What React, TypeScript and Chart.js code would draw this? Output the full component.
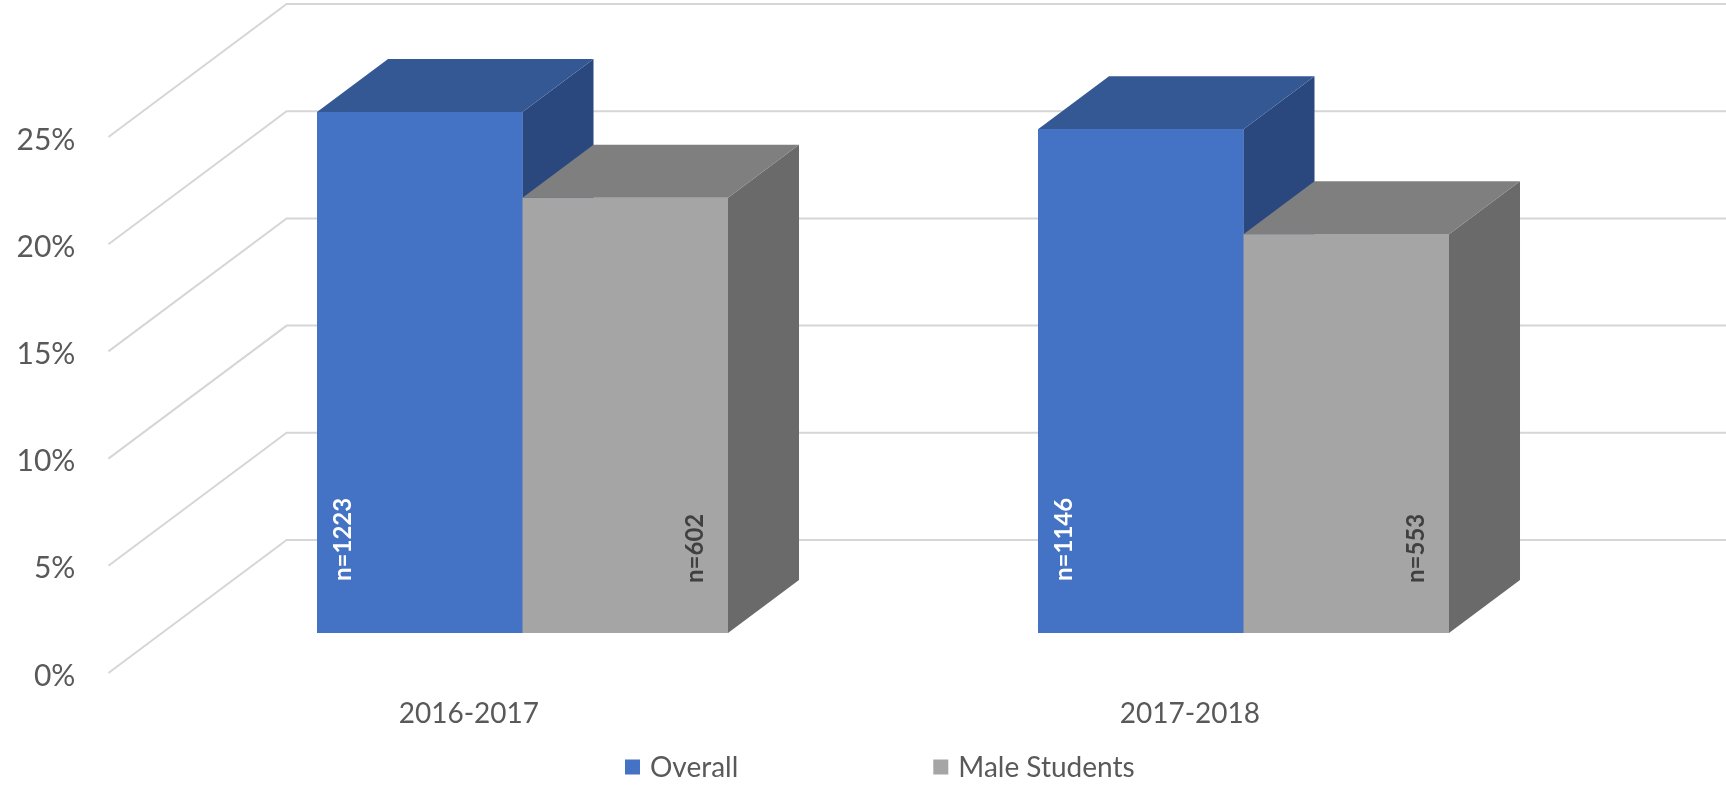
import React, { useEffect, useRef } from "react";
import { Chart, registerables } from "chart.js";

Chart.register(...registerables);

const categories = ["2016-2017", "2017-2018"];
const overallValues = [24.3, 23.5];
const maleValues = [20.3, 18.6];
const overallCounts = ["n=1223", "n=1146"];
const maleCounts = ["n=602", "n=553"];
const yTickValues = [0, 5, 10, 15, 20, 25];
const seriesNames = ["Overall", "Male Students"];

const FRONT = ["#4472C4", "#A5A5A5"];
const TOP = ["#345894", "#7F7F7F"];
const SIDE = ["#2B487E", "#6A6A6A"];
const LABEL_COLORS = ["#FFFFFF", "#404040"];
const TEXT = "#595959";
const GRID = "#D6D6D6";
const FONT = "Lato, 'Open Sans', sans-serif";

const K = 1.34; // horizontal shift per vertical depth px
const BAR_DEPTH = 53;
const D_FRONT = 40;
const D_BACK = 93;

const threeD = {
  id: "threeD",
  beforeDatasetsDraw(chart: any) {
    const ctx = chart.ctx;
    const y = chart.scales.y;
    const area = chart.chartArea;
    const backLeft = area.left + K * D_BACK;
    const frontLeft = area.left - K * D_FRONT;
    ctx.save();
    ctx.strokeStyle = GRID;
    ctx.lineWidth = 2;
    for (const v of yTickValues) {
      const py = y.getPixelForValue(v);
      ctx.beginPath();
      ctx.moveTo(frontLeft, py + D_FRONT);
      ctx.lineTo(backLeft, py - D_BACK);
      ctx.lineTo(chart.width, py - D_BACK);
      ctx.stroke();
    }
    // y tick labels
    ctx.fillStyle = TEXT;
    ctx.font = `30px ${FONT}`;
    ctx.textAlign = "right";
    ctx.textBaseline = "middle";
    for (const v of yTickValues) {
      const py = y.getPixelForValue(v);
      ctx.fillText(v + "%", frontLeft - 33, py + D_FRONT + 3);
    }
    // category labels
    const x = chart.scales.x;
    ctx.font = `28px ${FONT}`;
    ctx.textAlign = "center";
    categories.forEach((c, i) => {
      const px = x.getPixelForValue(i);
      ctx.fillText(c, px - K * D_FRONT, y.getPixelForValue(0) + D_FRONT + 41);
    });
    ctx.restore();
  },
  afterDatasetsDraw(chart: any) {
    const ctx = chart.ctx;
    const dx = K * BAR_DEPTH;
    const dy = BAR_DEPTH;
    ctx.save();
    const nCat = chart.data.labels.length;
    const nDs = chart.data.datasets.length;
    for (let i = 0; i < nCat; i++) {
      for (let j = 0; j < nDs; j++) {
        const el: any = chart.getDatasetMeta(j).data[i];
        const p = el.getProps(["x", "y", "base", "width"], true);
        const left = p.x - p.width / 2;
        const right = p.x + p.width / 2;
        const top = p.y;
        const bottom = p.base;
        // side
        ctx.fillStyle = SIDE[j];
        ctx.beginPath();
        ctx.moveTo(right, top);
        ctx.lineTo(right + dx, top - dy);
        ctx.lineTo(right + dx, bottom - dy);
        ctx.lineTo(right, bottom);
        ctx.closePath();
        ctx.fill();
        // top
        ctx.fillStyle = TOP[j];
        ctx.beginPath();
        ctx.moveTo(left, top);
        ctx.lineTo(left + dx, top - dy);
        ctx.lineTo(right + dx, top - dy);
        ctx.lineTo(right, top);
        ctx.closePath();
        ctx.fill();
        // front
        ctx.fillStyle = FRONT[j];
        ctx.fillRect(left, top, right - left, bottom - top);
      }
    }
    // data labels
    const counts = [overallCounts, maleCounts];
    ctx.font = `bold 24px ${FONT}`;
    ctx.textAlign = "left";
    ctx.textBaseline = "middle";
    for (let j = 0; j < nDs; j++) {
      for (let i = 0; i < nCat; i++) {
        const el: any = chart.getDatasetMeta(j).data[i];
        const p = el.getProps(["x", "y", "base", "width"], true);
        const cx = j === 0 ? p.x - p.width / 2 + 26 : p.x + p.width / 2 - 33;
        const sy = j === 0 ? p.base - 52 : p.base - 50;
        ctx.save();
        ctx.translate(cx, sy);
        ctx.rotate(-Math.PI / 2);
        ctx.fillStyle = LABEL_COLORS[j];
        ctx.fillText(counts[j][i], 0, 0);
        ctx.restore();
      }
    }
    // legend
    ctx.font = `28px ${FONT}`;
    ctx.textBaseline = "middle";
    ctx.textAlign = "left";
    let lx = 625;
    const ly = 767;
    chart.data.datasets.forEach((ds: any) => {
      ctx.fillStyle = ds.backgroundColor;
      ctx.fillRect(lx, ly - 7.5, 15, 15);
      ctx.fillStyle = TEXT;
      ctx.fillText(ds.label, lx + 25, ly + 1);
      lx += 25 + ctx.measureText(ds.label).width + 195;
    });
    ctx.restore();
  },
};

export default function App() {
  const ref = useRef<HTMLCanvasElement | null>(null);
  useEffect(() => {
    if (!ref.current) return;
    const chart = new Chart(ref.current, {
      type: "bar",
      data: {
        labels: categories,
        datasets: [
          { label: seriesNames[0], data: overallValues, backgroundColor: FRONT[0], borderWidth: 0 },
          { label: seriesNames[1], data: maleValues, backgroundColor: FRONT[1], borderWidth: 0 },
        ],
      },
      options: {
        responsive: false,
        animation: false,
        events: [],
        layout: { padding: { left: 162, right: 122, top: 97, bottom: 153 } },
        datasets: { bar: { categoryPercentage: 0.57, barPercentage: 1 } },
        plugins: { legend: { display: false }, tooltip: { enabled: false } },
        scales: {
          x: { display: false, offset: true },
          y: { display: false, min: 0, max: 25, ticks: { stepSize: 5 } },
        },
      } as any,
      plugins: [threeD],
    });
    return () => chart.destroy();
  }, []);
  return (
    <div style={{ position: "absolute", left: 0, top: 0, width: 1726, height: 786, background: "#fff" }}>
      <canvas ref={ref} width={1726} height={786} style={{ width: 1726, height: 786, display: "block" }} />
    </div>
  );
}
